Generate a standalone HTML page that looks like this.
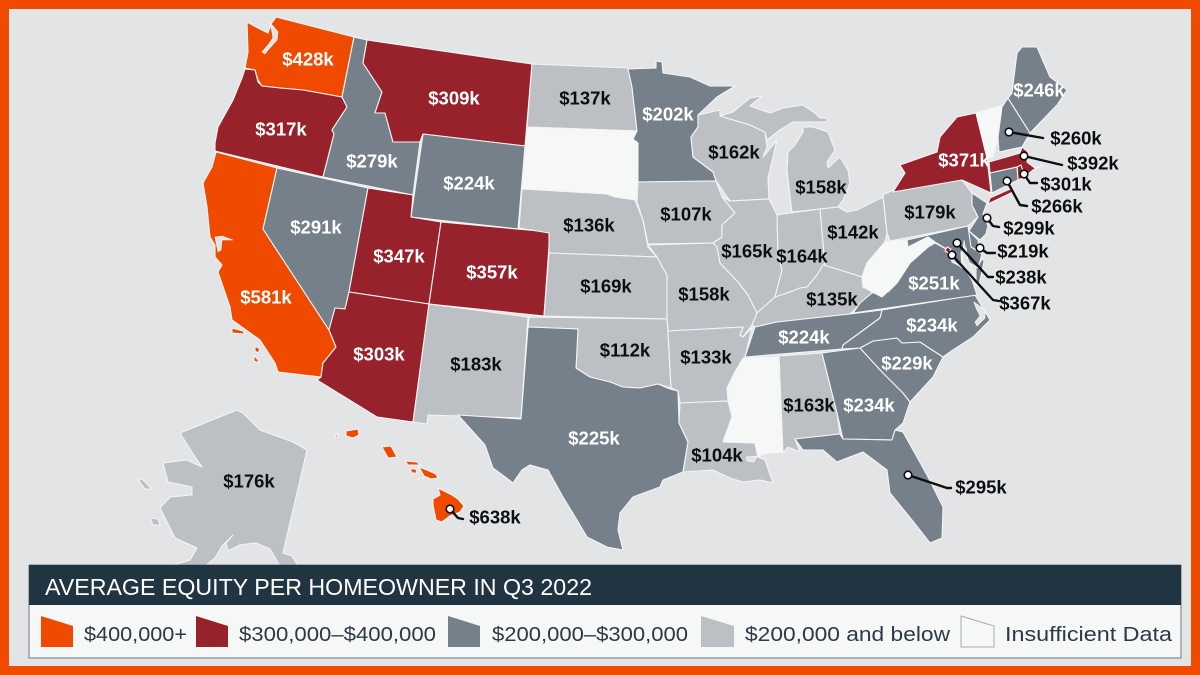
<!DOCTYPE html>
<html lang="en">
<head>
<meta charset="utf-8">
<title>Average Equity per Homeowner in Q3 2022</title>
<style>
html,body{margin:0;padding:0;width:1200px;height:675px;overflow:hidden;background:#E3E4E6}
svg{display:block}
text{font-family:"Liberation Sans",sans-serif}
</style>
</head>
<body>
<svg id="chart" xmlns="http://www.w3.org/2000/svg" width="1200" height="675" viewBox="0 0 1200 675">
  <rect x="0" y="0" width="1200" height="675" fill="#F04A00"/>
  <rect x="9" y="9" width="1182" height="657" fill="#E3E4E6"/>
  <g id="states"></g>
  <g id="water" fill="#E3E4E6" stroke="#fff" stroke-width="0.6">
    <path d="M270,23L273,26L278,32L277,40L268,50L265,54L262,52L268,45L273,38L272,32Z"/>
    <path d="M215,237L222,236L233,240L222,240L221,250L218,252Z"/>
    <path d="M964,240L967,256L972,270L978,284L975,285L968,272L962,258Z"/>
    <path d="M974,302L985,310L985,318L977,326L975,322L980,316L976,308Z"/>
    <path d="M746,457L757,456L754,462L747,461Z"/>
  </g>
  <g id="labels"></g>
  <g id="callouts"></g>

  <g>
    <rect x="29" y="565" width="1152" height="93" fill="#F6F7F7" stroke="#6d7880" stroke-width="1"/>
    <rect x="29" y="565" width="1152" height="40" fill="#213442"/>
    <text x="45" y="595" font-size="23" fill="#fff" textLength="547" lengthAdjust="spacingAndGlyphs">AVERAGE EQUITY PER HOMEOWNER IN Q3 2022</text>

    <polygon points="41,616 73,626 73,647 41,647" fill="#F04A00"/>
    <text x="84" y="641" font-size="20" fill="#2b3a45" textLength="103" lengthAdjust="spacingAndGlyphs">$400,000+</text>

    <polygon points="196,616 228,626 228,647 196,647" fill="#97222B"/>
    <text x="239" y="641" font-size="20" fill="#2b3a45" textLength="197" lengthAdjust="spacingAndGlyphs">$300,000–$400,000</text>

    <polygon points="448,616 480,626 480,647 448,647" fill="#76808A"/>
    <text x="492" y="641" font-size="20" fill="#2b3a45" textLength="196" lengthAdjust="spacingAndGlyphs">$200,000–$300,000</text>

    <polygon points="701,616 734,626 734,647 701,647" fill="#BCC0C5"/>
    <text x="745" y="641" font-size="20" fill="#2b3a45" textLength="205" lengthAdjust="spacingAndGlyphs">$200,000 and below</text>

    <polygon points="961,616 994,626 994,647 961,647" fill="#F6F7F7" stroke="#a8adb2" stroke-width="1"/>
    <text x="1005" y="641" font-size="20" fill="#2b3a45" textLength="167" lengthAdjust="spacingAndGlyphs">Insufficient Data</text>
  </g>
</svg>

<script>
// ---- Data: state codes and average equity in $ thousands (null = insufficient data)
const stateCodes = ["WA","OR","CA","NV","ID","MT","WY","UT","CO","AZ","NM","ND","SD","NE","KS","OK","TX","MN","IA","MO","AR","LA","WI","IL","MI","IN","OH","KY","TN","MS","AL","GA","FL","SC","NC","VA","WV","PA","NY","VT","NH","ME","MA","RI","CT","NJ","DE","MD","DC","AK","HI"];
const equityValues = [428,317,581,291,279,309,224,347,357,303,183,137,null,136,169,112,225,202,107,158,133,104,162,165,158,164,142,135,224,null,163,234,295,229,234,251,null,179,371,null,260,246,392,301,266,299,219,238,367,176,638];
const tierBreaks = [400,300,200];

// ---- Colour scale
const tierFills = ["#F04A00","#97222B","#76808A","#BCC0C5"];
const noDataFill = "#F6F7F7";
function fillFor(v){
  if (v === null) return noDataFill;
  for (let i = 0; i < tierBreaks.length; i++) { if (v >= tierBreaks[i]) return tierFills[i]; }
  return tierFills[3];
}
function inkFor(v){ return v !== null && v >= tierBreaks[2] ? "#FFFFFF" : "#0B0F12"; }
function formatValue(v){ return "$" + v + "k"; }

// ---- Map geometry (basemap outlines, not data)
const shapes = {
WA:["247,22 258,28 268,33 271,24 276,17 354,37 342,97 303,90 280,88 262,86 258,80 255,70 245,68 248,52"],
OR:["245,69 255,70 258,82 262,86 280,88 303,90 342,97 347,107 332,130 334,134 323,177 215,151 215,143 218,127 233,100 242,78"],
CA:["216,152 277,168 263,229 329,330 336,347 323,363 321,377 278,372 275,363 260,340 232,320 230,307 218,272 222,265 215,257 215,245 210,237 207,207 203,183 212,167","232,328 243,331 245,334 232,333","255,346 260,349 258,353 255,351","254,355 258,360 259,363 254,361"],
NV:["277,168 368,188 349,292 345,309 335,308 329,330 263,229"],
ID:["354,37 367,40 363,63 382,92 375,113 385,113 393,142 420,142 413,195 323,177 334,134 332,130 347,107 342,97"],
MT:["367,40 532,64 525,146 423,134 420,142 393,142 385,113 375,113 382,92 363,63"],
WY:["423,134 525,146 518,229 411,217"],
UT:["368,188 413,195 411,217 441,222 429,304 349,292"],
CO:["441,222 550,232 544,316 429,304"],
AZ:["349,292 429,304 413,422 377,417 317,380 321,377 323,363 336,347 329,330 335,308 345,309"],
NM:["429,304 528,317 521,418 428,415 427,424 413,422"],
ND:["532,64 628,68 632,87 637,131 527,127"],
SD:["527,127 635,131 633,139 638,143 637,183 637,198 635,200 615,197 607,194 522,189"],
NE:["522,189 607,194 615,197 635,200 643,220 648,247 657,257 549,253 549,233 519,228"],
KS:["549,253 657,257 663,268 667,275 667,319 544,316"],
OK:["529,317 667,319 668,332 671,388 658,384 640,388 623,387 610,382 590,377 576,368 578,329 528,327"],
TX:["528,327 578,329 576,368 590,377 610,382 623,387 640,388 658,384 670,389 678,391 679,423 688,442 683,472 663,480 660,487 633,497 620,513 618,530 623,550 607,547 587,537 577,520 563,497 548,470 530,465 522,470 513,483 493,468 485,445 458,415 521,419"],
MN:["628,69 656,68 656,61 662,62 663,73 690,77 710,86 735,86 717,97 698,115 698,127 691,137 693,157 713,172 716,181 638,182 638,143 633,139 637,131 632,87"],
IA:["638,182 716,181 722,197 735,213 722,225 722,237 713,243 648,244 643,220 637,202"],
MO:["648,245 713,243 717,247 720,263 738,282 748,295 757,313 752,325 743,337 740,335 743,327 668,331 667,319 667,275 663,268 657,257"],
AR:["668,331 743,327 740,335 743,337 752,328 745,357 735,372 727,388 728,401 680,403 678,391 671,388"],
LA:["680,403 728,401 732,417 723,442 755,443 758,457 765,460 773,483 760,480 743,482 730,478 713,470 683,472 688,442 679,423"],
WI:["698,115 720,110 720,116 750,125 765,132 767,147 763,157 777,140 768,178 769,199 730,201 716,181 713,172 693,157 691,137 698,127"],
IL:["730,201 769,199 777,215 778,253 782,270 775,297 757,313 748,295 738,282 720,263 717,247 713,243 722,237 722,225 735,213 722,197"],
MI:["720,116 733,112 750,98 762,96 750,106 770,113 783,108 803,105 815,113 820,118 827,118 827,122 808,122 793,122 780,130 772,136 767,140 765,132 750,125","803,127 813,127 828,132 835,150 827,162 828,168 840,157 848,170 850,183 843,200 838,207 792,212 790,197 787,170 788,152 795,145 803,132"],
IN:["783,214 820,209 825,265 817,275 807,287 800,288 790,292 775,297 782,270 778,253 777,215"],
OH:["820,209 838,207 847,212 857,210 883,197 887,233 885,242 867,263 862,277 840,270 823,265 825,265"],
KY:["757,313 775,297 790,292 800,288 807,287 817,275 823,265 840,270 862,277 872,293 850,314 777,322 755,327 752,325"],
TN:["755,327 777,322 850,314 882,310 880,318 843,345 842,349 745,357 750,342"],
MS:["743,358 778,357 782,452 763,454 758,457 755,443 723,442 732,417 727,388 735,372"],
AL:["779,356 822,353 837,413 840,434 795,439 800,452 788,447 783,453"],
GA:["822,353 860,348 883,373 903,393 910,402 903,423 895,430 892,440 843,439 837,413"],
FL:["795,439 840,434 843,439 892,440 895,430 903,432 927,475 943,507 942,538 930,543 912,520 890,493 887,470 863,452 847,458 837,462 823,450 803,450"],
SC:["860,348 873,341 897,338 902,343 920,342 943,357 933,377 910,402 903,393 883,373"],
NC:["882,310 975,295 990,320 973,337 953,350 943,357 920,342 902,343 897,338 873,341 860,348 842,349 843,345 880,318"],
VA:["853,313 860,303 872,293 888,292 897,283 910,263 928,247 935,243 948,250 952,262 964,268 972,280 977,295","976,268 983,258 984,262 979,285 976,285"],
WV:["885,242 890,241 907,240 908,247 928,237 935,242 928,247 910,263 897,283 882,297 863,287 862,277 867,263"],
PA:["883,195 893,190 962,180 972,193 972,205 978,217 968,226 890,241 887,233"],
NY:["893,192 905,173 900,165 937,152 940,137 957,117 976,113 987,158 991,193 962,180","988,204 1013,192 1010,189 990,198"],
VT:["976,113 1003,105 998,137 993,157 987,158"],
NH:["1002,107 1008,98 1030,133 1022,147 999,152 998,137"],
ME:["1008,98 1012,93 1017,53 1022,47 1037,47 1050,77 1067,90 1057,105 1030,133"],
MA:["989,162 1020,153 1022,147 1028,152 1027,162 1035,168 1043,165 1033,170 1023,178 1017,167 990,173"],
RI:["1017,167 1021,165 1025,177 1018,180"],
CT:["990,173 1017,167 1018,180 992,193"],
NJ:["972,193 987,203 983,214 988,226 986,234 980,240 969,231 978,217 972,205"],
MD:["907,240 968,226 971,247 982,254 978,268 968,262 966,248 961,252 962,268 955,262 948,250 935,242 928,237 908,247"],
DE:["966,228 969,231 978,240 980,252 971,247"],
DC:["947,247 951,249 949,253 945,251"],
AK:["237,410 243,413 260,430 293,442 307,450 283,553 292,556 298,566 280,566 270,549 256,543 247,544 240,545 228,551 226,543 233,535 222,546 215,558 205,566 170,566 190,560 197,548 175,538 170,528 160,508 170,497 192,495 192,487 168,482 163,463 187,460 202,467 195,457 180,433","137,478 143,480 152,489 145,489","150,518 158,519 160,525 153,525"],
HI:["346,431 358,429 359,435 353,438 346,436","334,437 339,433 337,437","382,447 391,446 397,457 388,458","405,461 417,462 420,465 408,465","410,469 416,469 417,473 412,473","419,467 427,470 436,474 438,478 431,479 424,476","418,479 423,478 422,480","438,488 446,492 452,495 458,499 464,506 460,512 450,516 442,522 436,520 433,505 433,499 440,495"]
};

// ---- Label anchors for states labelled directly on the map
const labelAt = {WA:[308,59],OR:[281,129],CA:[266,297],NV:[316,227],ID:[372,161],MT:[454,98],WY:[469,183],UT:[399,256],CO:[492,272],AZ:[379,354],NM:[476,364],ND:[585,98],NE:[589,225],KS:[606,286],OK:[625,350],TX:[594,438],MN:[668,114],IA:[686,214],MO:[704,294],AR:[706,357],LA:[717,455],WI:[734,152],IL:[747,251],IN:[802,256],MI:[821,187],OH:[853,232],KY:[832,299],TN:[804,337],AL:[809,405],GA:[869,405],SC:[907,363],NC:[932,325],VA:[934,283],PA:[930,212],NY:[964,160],ME:[1039,90],AK:[249,481]};

// ---- Leader-line anchors: dot, elbow, end, label centre
const calloutAt = {
NH:[[1009,132],[1043,138],[1043,138],[1076,138]],
MA:[[1024,156],[1062,165],[1062,165],[1093,163]],
RI:[[1024,174],[1030,183],[1037,183],[1066,184]],
CT:[[1007,181],[1020,205],[1027,206],[1057,206]],
NJ:[[987,218],[993,226],[999,227],[1029,228]],
DE:[[980,248],[987,253],[995,253],[1023,251]],
MD:[[957,243],[988,277],[993,277],[1021,277]],
DC:[[952,255],[993,300],[999,301],[1025,303]],
FL:[[908,475],[947,488],[951,488],[981,487]],
HI:[[450,509],[458,518],[463,519],[495,517]]
};

const NS = "http://www.w3.org/2000/svg";
const statesG = document.getElementById("states");
const labelsG = document.getElementById("labels");
const calloutsG = document.getElementById("callouts");

stateCodes.forEach(function(code, i){
  const v = equityValues[i];
  shapes[code].forEach(function(pts){
    const poly = document.createElementNS(NS, "polygon");
    
    
    poly.setAttribute("points", pts);
    poly.setAttribute("fill", fillFor(v));
    poly.setAttribute("stroke", "#F4F5F5");
    poly.setAttribute("stroke-width", "1.1");
    poly.setAttribute("stroke-linejoin", "round");
    statesG.appendChild(poly);
  });
  if (v === null) return;
  if (labelAt[code]) {
    const t = document.createElementNS(NS, "text");
    
    
    t.setAttribute("x", labelAt[code][0]);
    t.setAttribute("y", labelAt[code][1] + 6.5);
    t.setAttribute("text-anchor", "middle");
    t.setAttribute("font-size", "18.5");
    t.setAttribute("font-weight", "700");
    t.setAttribute("fill", inkFor(v));
    t.textContent = formatValue(v);
    labelsG.appendChild(t);
  }
  if (calloutAt[code]) {
    const c = calloutAt[code];
    const line = document.createElementNS(NS, "polyline");
    
    
    line.setAttribute("points", c.slice(0, 3).map(function(p){ return p.join(","); }).join(" "));
    line.setAttribute("fill", "none");
    line.setAttribute("stroke", "#0B0F12");
    line.setAttribute("stroke-width", "2.4");
    line.setAttribute("stroke-linecap", "round");
    line.setAttribute("stroke-linejoin", "round");
    calloutsG.appendChild(line);
    const dot = document.createElementNS(NS, "circle");
    
    
    dot.setAttribute("cx", c[0][0]);
    dot.setAttribute("cy", c[0][1]);
    dot.setAttribute("r", "3.8");
    dot.setAttribute("fill", "#fff");
    dot.setAttribute("stroke", "#0B0F12");
    dot.setAttribute("stroke-width", "1.6");
    calloutsG.appendChild(dot);
    const t = document.createElementNS(NS, "text");
    
    
    t.setAttribute("x", c[3][0]);
    t.setAttribute("y", c[3][1] + 6.5);
    t.setAttribute("text-anchor", "middle");
    t.setAttribute("font-size", "18.5");
    t.setAttribute("font-weight", "700");
    t.setAttribute("fill", "#0B0F12");
    t.textContent = formatValue(v);
    calloutsG.appendChild(t);
  }
});
</script>
</body>
</html>
